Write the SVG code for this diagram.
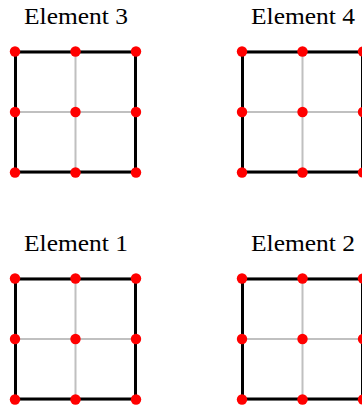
<svg xmlns="http://www.w3.org/2000/svg" width="362" height="406" viewBox="0 0 362 406">
  <style>
    .grid { stroke: #c0c0c0; stroke-width: 2; fill: none; }
    .box { stroke: #000; stroke-width: 3; fill: none; }
    .node { fill: #ff0000; }
    .label { font-family: "Liberation Serif", "DejaVu Serif", serif; font-size: 23px; fill: #000; text-anchor: middle; }
  </style>
  <defs>
    <g id="elem">
      <path class="grid" d="M60.5 0 V121 M0 60.5 H121 M0 0 H121 M0 121 H121 M0 0 V121 M121 0 V121"/>
      <rect class="box" x="0.5" y="0.5" width="120" height="120"/>
      <circle class="node" cx="0" cy="0" r="5.2"/>
      <circle class="node" cx="60.5" cy="0" r="5.2"/>
      <circle class="node" cx="121" cy="0" r="5.2"/>
      <circle class="node" cx="0" cy="60.5" r="5.2"/>
      <circle class="node" cx="60.5" cy="60.5" r="5.2"/>
      <circle class="node" cx="121" cy="60.5" r="5.2"/>
      <circle class="node" cx="0" cy="121" r="5.2"/>
      <circle class="node" cx="60.5" cy="121" r="5.2"/>
      <circle class="node" cx="121" cy="121" r="5.2"/>
    </g>
  </defs>
  <g id="element3">
    <text class="label" x="76" y="23.5" textLength="104" lengthAdjust="spacingAndGlyphs">Element 3</text>
    <use href="#elem" x="15" y="51.5"/>
  </g>
  <g id="element4">
    <text class="label" x="303" y="23.5" textLength="104" lengthAdjust="spacingAndGlyphs">Element 4</text>
    <use href="#elem" x="242" y="51.5"/>
  </g>
  <g id="element1">
    <text class="label" x="76" y="250.5" textLength="104" lengthAdjust="spacingAndGlyphs">Element 1</text>
    <use href="#elem" x="15" y="278.5"/>
  </g>
  <g id="element2">
    <text class="label" x="303" y="250.5" textLength="104" lengthAdjust="spacingAndGlyphs">Element 2</text>
    <use href="#elem" x="242" y="278.5"/>
  </g>
  <g id="connectors"></g>
</svg>
